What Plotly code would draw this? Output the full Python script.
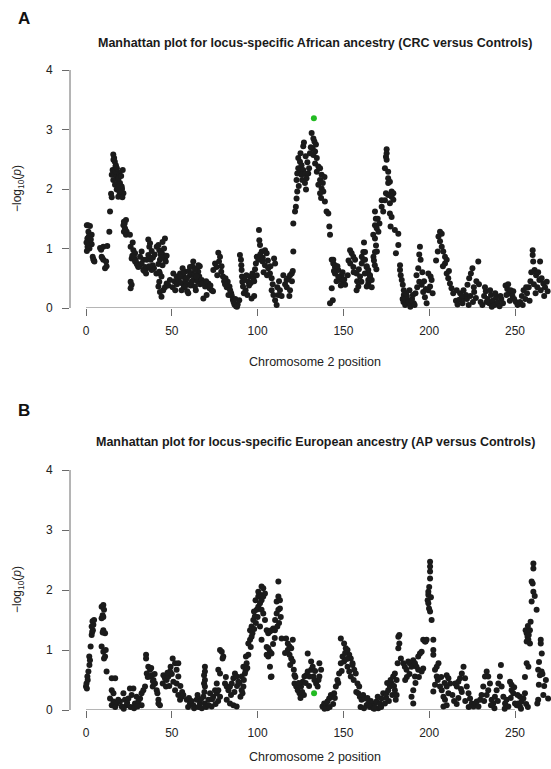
import sys
import plotly.graph_objects as go

# ---------------- Panel A: African ancestry (CRC vs Controls) ----------------
pos_A = [
    0.5, 1.2, 2.3, 1.4, 3.3, 0.8, 2.3, 0.3, 3.3, 0.9, 2.0, 0.5, 1.6, 2.8, 3.9, 4.3, 4.9, 4.5,
    8.2, 10.1, 12.4, 9.1, 10.1, 11.7, 11.1, 9.5, 12.0, 8.8,
    13.6, 14.0, 14.6, 15.0, 15.9, 16.4, 16.8, 17.4, 15.5, 16.9, 15.0, 17.9, 15.9, 18.8, 16.9, 19.8, 20.8, 17.9,
    20.2, 21.8, 20.2, 18.8, 21.4, 19.4, 16.0, 17.2, 18.3, 19.0, 20.5, 21.0, 19.5, 17.0, 18.0, 20.0, 21.2, 18.5,
    22.1, 23.3, 21.8, 22.7, 23.7, 22.1, 23.3, 22.5, 23.0,
    25.6, 27.2, 26.0, 27.6, 28.6, 26.6, 28.6, 29.5, 30.5, 26.0, 26.6, 26.0, 27.0, 28.0, 29.0, 30.0, 31.0,
    32.4, 31.5, 33.4, 32.4, 34.4, 33.4, 35.4, 36.3, 37.3, 36.9, 38.3, 36.3, 35.4, 37.7, 38.9, 39.6, 38.3, 34.0,
    35.0, 36.8, 39.0, 40.0,
    41.2, 42.7, 44.0, 45.0, 46.0, 43.1, 42.2, 44.6, 46.0, 44.6, 42.2, 45.5, 43.5, 47.0, 41.0, 43.0, 44.0, 46.5,
    42.7, 44.0, 42.7, 42.2, 43.1, 44.0, 45.0, 47.0, 48.9, 46.0, 48.0,
    50.9, 52.8, 54.8, 56.3, 57.7, 58.7, 60.6, 62.5, 64.4, 65.4, 66.3, 51.5, 53.0, 54.0, 55.5, 56.8, 57.0, 58.0,
    59.5, 60.0, 61.0, 61.5, 63.0, 63.5, 64.0, 59.0, 52.0, 50.5, 55.0, 62.0, 65.0, 66.0,
    56.7, 58.7, 60.6, 62.5, 63.5, 64.5, 65.5, 54.8, 57.7, 59.6, 55.7, 61.6,
    67.4, 69.4, 71.3, 73.2, 70.3, 68.4, 72.0, 74.0, 66.5, 68.0, 70.0, 72.5,
    77.1, 78.1, 75.2, 76.1, 74.2, 78.8, 79.8, 81.3, 82.6, 83.6, 84.6, 85.6, 86.5, 87.4, 88.4, 89.3, 80.5, 82.0,
    84.0, 85.0, 86.0, 87.0, 88.0, 79.0, 77.5, 76.5, 81.0, 83.0,
    89.7, 90.3, 90.5, 90.7, 90.9, 91.1, 91.5, 92.6, 94.6, 95.6, 97.5, 96.5, 93.0, 94.0, 95.0, 96.0, 97.0, 98.0,
    92.0, 93.5,
    100.8, 101.0, 101.4, 102.4, 104.3, 105.3, 99.5, 100.4, 102.9, 104.3, 106.2, 107.2, 108.2, 109.6, 110.2,
    108.2, 109.2, 110.2, 111.1, 112.1, 113.0, 114.0, 99.0, 98.5, 103.0, 106.0, 107.5, 103.5, 105.5, 101.5,
    108.8, 111.5, 112.5, 98.0, 99.5,
    116.9, 117.9, 118.9, 119.9, 118.9, 118.5, 116.0, 117.0, 120.0, 115.0, 120.5,
    120.8, 120.8, 121.8, 122.3, 122.7, 123.1, 122.7, 123.1, 123.7, 123.7, 124.7, 125.6, 124.7, 126.6, 125.6,
    127.6, 129.5, 128.5, 127.6, 128.2, 126.6, 127.0, 124.0, 125.0, 126.0, 129.0, 130.0, 128.0,
    131.5, 132.5, 133.1, 132.1, 133.5, 132.5, 134.5, 133.5, 135.4, 136.4, 134.5, 137.3, 136.4, 135.4, 137.3,
    138.3, 136.4, 139.2, 140.2, 141.2, 141.8, 142.2, 143.2, 144.1, 145.1, 143.8, 142.2, 131.0, 130.5, 134.0,
    138.0, 139.0, 137.0,
    144.1, 145.1, 147.0, 149.0, 148.0, 150.0, 151.0, 147.0, 145.1, 143.2, 146.0, 148.5, 150.5, 144.5, 146.5, 149.5,
    153.9, 154.8, 155.8, 156.8, 155.8, 157.7, 159.7, 158.7, 157.7, 153.0, 154.0, 156.0, 158.0, 159.0, 152.5,
    160.7, 161.6, 162.6, 163.6, 164.5, 165.5, 166.5, 164.5, 163.6, 162.0, 162.6, 161.6, 160.7, 163.5, 164.5,
    165.5, 164.5, 162.5, 166.5, 160.5, 167.5, 168.4,
    168.4, 168.9, 168.4, 169.4, 170.4, 167.4, 168.4, 171.0, 172.3, 174.2, 172.3, 173.2, 170.0, 169.0, 169.5,
    167.8, 169.2, 168.3,
    175.2, 175.2, 174.8, 175.2, 174.2, 176.1, 176.1, 177.1, 176.1, 174.8, 176.1, 178.1, 179.1, 178.1, 179.1,
    177.1, 177.1, 178.1, 177.5, 180.0, 182.0, 182.0, 180.6, 183.0, 183.0, 183.4, 184.0, 184.6, 185.2, 185.2,
    186.1, 187.1,
    185.0, 186.0, 187.0, 188.0, 189.0, 190.0, 191.0, 192.0, 188.5, 186.5, 189.5, 190.5, 184.5, 191.5,
    194.6, 194.2, 195.0, 193.6, 192.6, 194.2, 195.6, 196.5, 197.5, 198.5, 199.5, 200.5, 201.4, 200.8, 199.5,
    202.0, 193.0, 196.0, 197.0, 198.0,
    206.3, 207.3, 205.4, 206.3, 207.3, 208.2, 209.2, 210.2, 209.2, 210.2, 211.1, 212.1, 213.0, 214.0, 205.0,
    208.0, 211.5, 204.0,
    215.6, 216.5, 217.5, 219.4, 220.4, 221.4, 222.3, 223.3, 224.3, 225.2, 226.2, 227.2, 228.6, 229.0, 218.0,
    220.0, 222.0, 224.0, 226.0, 223.0, 225.5, 227.5, 216.0, 219.0,
    230.0, 231.0, 232.0, 233.0, 234.0, 235.0, 236.0, 237.0, 238.0, 239.0, 240.0, 241.0, 242.0, 243.0, 232.5,
    235.5, 238.5, 241.5, 236.5, 233.5,
    244.5, 245.5, 246.5, 247.5, 248.5, 249.5, 250.5, 251.5, 245.0, 247.0, 249.0, 246.0,
    253.0, 254.0, 255.0, 256.0, 257.0, 258.0, 259.0, 260.3, 260.3, 260.6, 264.6, 261.4, 262.3, 264.2, 266.5,
    268.5, 263.0, 265.0, 267.0, 262.0, 259.5, 261.0, 263.5, 265.5, 267.5, 269.0, 254.5, 256.5, 258.5,
]
logp_A = [
    1.39, 1.39, 1.38, 1.28, 1.23, 1.17, 1.14, 1.10, 1.07, 1.03, 1.00, 0.96, 1.20, 1.15, 0.86, 0.82, 0.78, 0.80,
    1.01, 1.03, 1.04, 0.86, 0.81, 0.78, 0.67, 0.84, 0.70, 0.98,
    1.28, 1.62, 1.92, 1.86, 2.58, 2.52, 2.46, 2.40, 2.32, 2.26, 2.24, 2.21, 2.15, 2.12, 2.07, 2.10, 2.04, 1.99,
    1.97, 1.93, 1.90, 1.87, 2.32, 2.26, 2.49, 2.38, 2.29, 2.18, 2.22, 2.00, 1.95, 2.30, 2.35, 2.05, 1.86, 2.02,
    1.45, 1.48, 1.39, 1.34, 1.28, 1.28, 1.23, 1.42, 1.31,
    1.23, 1.10, 1.03, 0.97, 0.92, 0.83, 0.78, 0.75, 0.69, 0.44, 0.39, 0.33, 0.88, 0.85, 0.80, 0.72, 0.70,
    0.95, 0.86, 0.81, 0.75, 0.69, 0.64, 0.67, 1.15, 1.09, 1.03, 0.96, 0.89, 0.81, 0.81, 0.72, 0.67, 0.64, 0.62,
    0.58, 0.70, 0.85, 0.90,
    1.03, 0.97, 0.95, 0.89, 0.83, 0.81, 0.74, 0.72, 1.17, 1.11, 1.06, 1.00, 0.90, 0.88, 0.58, 0.58, 0.85, 0.78,
    0.61, 0.53, 0.44, 0.36, 0.27, 0.19, 0.30, 0.41, 0.47, 0.35, 0.38,
    0.58, 0.53, 0.58, 0.67, 0.61, 0.50, 0.55, 0.47, 0.66, 0.61, 0.70, 0.45, 0.40, 0.48, 0.42, 0.52, 0.35, 0.45,
    0.40, 0.62, 0.38, 0.58, 0.55, 0.36, 0.30, 0.28, 0.30, 0.35, 0.55, 0.70, 0.45, 0.53,
    0.58, 0.50, 0.69, 0.78, 0.64, 0.53, 0.72, 0.53, 0.36, 0.25, 0.30, 0.44,
    0.47, 0.36, 0.41, 0.30, 0.22, 0.16, 0.33, 0.28, 0.40, 0.42, 0.45, 0.38,
    0.93, 0.86, 0.75, 0.69, 0.64, 0.61, 0.53, 0.50, 0.44, 0.36, 0.25, 0.14, 0.06, 0.03, 0.06, 0.13, 0.45, 0.35,
    0.30, 0.20, 0.10, 0.15, 0.02, 0.70, 0.78, 0.55, 0.40, 0.22,
    0.89, 0.81, 0.72, 0.64, 0.53, 0.44, 0.36, 0.47, 0.44, 0.53, 0.50, 0.16, 0.30, 0.22, 0.38, 0.42, 0.58, 0.45,
    0.25, 0.55,
    1.31, 1.14, 1.06, 0.95, 0.97, 0.92, 0.86, 0.81, 0.78, 0.72, 0.67, 0.58, 0.50, 0.83, 0.75,
    0.30, 0.22, 0.13, 0.05, 0.22, 0.30, 0.20, 0.75, 0.65, 0.85, 0.80, 0.70, 0.60, 0.55, 0.90,
    0.40, 0.35, 0.45, 0.20, 0.55,
    0.47, 0.50, 0.55, 0.58, 0.30, 0.20, 0.40, 0.35, 0.45, 0.55, 0.62,
    0.95, 1.42, 1.62, 1.70, 1.84, 1.96, 2.15, 2.26, 2.35, 2.52, 2.46, 2.40, 2.32, 2.32, 2.24,
    2.26, 2.26, 2.18, 2.10, 1.99, 2.72, 2.78, 2.05, 2.60, 2.15, 2.45, 2.35, 2.55,
    2.94, 2.85, 2.80, 2.68, 2.63, 2.57, 2.52, 2.43, 2.38, 2.35, 2.29, 2.24, 2.15, 2.07, 2.01,
    1.96, 1.93, 1.79, 1.62, 1.59, 1.37, 1.23, 0.81, 0.75, 0.69, 0.13, 0.08, 2.70, 2.60, 2.75,
    2.10, 2.20, 1.85,
    0.81, 0.72, 0.64, 0.55, 0.47, 0.41, 0.39, 0.53, 0.58, 0.33, 0.45, 0.38, 0.48, 0.62, 0.70, 0.60,
    0.97, 0.92, 0.86, 0.81, 0.69, 0.58, 0.53, 0.36, 0.30, 0.80, 0.75, 0.60, 0.45, 0.65, 0.55,
    0.86, 0.94, 0.81, 0.70, 0.58, 0.53, 0.47, 0.41, 0.36, 1.10, 0.94, 0.81, 0.75, 0.69, 0.64,
    0.55, 0.47, 0.58, 0.35, 0.44, 0.86, 0.94,
    1.62, 1.50, 1.39, 1.34, 1.28, 1.23, 1.17, 1.42, 1.81, 1.81, 1.70, 1.62, 1.50, 1.05, 0.95,
    0.80, 0.65, 0.72,
    2.67, 2.60, 2.54, 2.49, 2.35, 2.29, 2.18, 2.12, 2.10, 1.93, 1.90, 1.96, 1.93, 1.87, 1.82,
    1.76, 1.59, 1.53, 1.37, 1.31, 1.25, 1.06, 0.92, 0.72, 0.64, 0.55, 0.47, 0.39, 0.30, 0.22,
    0.17, 0.14,
    0.10, 0.05, 0.20, 0.10, 0.02, 0.15, 0.08, 0.25, 0.30, 0.25, 0.12, 0.22, 0.15, 0.05,
    1.03, 0.90, 0.81, 0.67, 0.55, 0.44, 0.39, 0.27, 0.18, 0.08, 0.30, 0.36, 0.47, 0.53, 0.58,
    0.25, 0.35, 0.60, 0.45, 0.32,
    1.28, 1.25, 1.20, 1.12, 1.03, 0.95, 0.86, 0.81, 0.75, 0.58, 0.50, 0.41, 0.33, 0.25, 0.95,
    0.70, 0.62, 0.80,
    0.12, 0.06, 0.14, 0.08, 0.16, 0.22, 0.39, 0.50, 0.58, 0.67, 0.27, 0.17, 0.78, 0.40, 0.25,
    0.30, 0.15, 0.20, 0.35, 0.05, 0.10, 0.45, 0.30, 0.20,
    0.10, 0.05, 0.20, 0.28, 0.15, 0.08, 0.22, 0.12, 0.05, 0.18, 0.10, 0.03, 0.15, 0.08, 0.35,
    0.30, 0.25, 0.20, 0.02, 0.10,
    0.38, 0.32, 0.25, 0.30, 0.20, 0.15, 0.10, 0.05, 0.22, 0.12, 0.28, 0.40,
    0.10, 0.20, 0.30, 0.15, 0.25, 0.35, 0.45, 0.97, 0.89, 0.78, 0.78, 0.64, 0.55, 0.47, 0.41,
    0.44, 0.35, 0.30, 0.20, 0.25, 0.60, 0.40, 0.60, 0.50, 0.35, 0.28, 0.05, 0.35, 0.12,
]
hit_pos_A = [132.8]
hit_logp_A = [3.19]

# ---------------- Panel B: European ancestry (AP vs Controls) ----------------
pos_B = [
    0.0, 0.5, 0.3, 0.8, 1.4, 1.9, 2.3, 2.7, 3.3, 3.6, 4.0, 3.3, 4.3, 3.8, 4.7, 1.0, 2.0,
    9.1, 10.1, 10.5, 9.7, 9.1, 10.1, 10.1, 11.1, 9.7, 9.1, 10.1, 11.1, 10.5, 12.0, 11.5,
    15.0, 17.0, 15.0, 16.0, 14.0, 16.0, 17.9, 15.0, 19.8, 21.8, 22.7, 24.7, 25.6, 27.6, 26.6, 28.5,
    29.5, 30.5, 31.5, 32.4, 33.4, 34.4, 32.4, 23.7, 20.8, 18.8, 17.0, 26.0, 24.0, 28.0, 30.0, 22.0,
    35.0, 35.0, 36.3, 37.3, 35.4, 37.3, 38.3, 39.3, 40.2, 38.9, 41.2, 41.6, 42.2, 43.1, 42.2, 36.0, 38.0, 40.0, 39.0,
    45.1, 46.0, 44.7, 47.0, 48.0, 46.6, 49.0, 49.3, 50.5, 51.9, 53.8, 52.8, 53.8, 52.8, 51.9, 53.8, 54.8, 55.8,
    50.9, 50.0, 48.5, 47.5, 55.0, 56.0,
    56.7, 58.7, 60.6, 62.5, 64.5, 66.4, 68.4, 69.3, 71.3, 72.3, 74.2, 75.2, 76.2, 73.2, 60.0, 63.0, 65.5, 67.5,
    70.0, 71.5, 59.5, 61.5, 65.0, 67.0, 69.0, 73.5, 75.5, 77.0,
    69.3, 69.3, 68.8, 69.3, 68.8, 69.3,
    78.1, 79.1, 80.0, 79.6, 77.1, 78.1, 76.2, 77.1, 78.1, 81.0, 82.0, 83.0, 83.9, 84.9, 85.9, 86.8, 87.8, 88.8,
    82.0, 83.9, 85.9, 87.8, 84.5, 86.5, 88.0, 81.5,
    90.7, 91.7, 90.7, 92.6, 91.7, 93.6, 93.2, 94.6, 90.0, 91.2, 92.0, 93.0, 94.0, 89.5,
    94.6, 95.6, 96.5, 95.6, 96.5, 97.5, 98.4, 97.9, 99.4, 100.4, 98.8, 100.4, 101.4, 102.3, 103.3,
    100.4, 102.3, 103.3, 104.3, 101.4, 102.3, 103.3, 104.3, 101.4, 102.3, 97.0, 99.0, 96.0, 98.0, 100.0,
    105.3, 106.2, 107.2, 108.1, 109.1, 110.1, 105.3, 106.2, 107.2, 108.1, 106.2, 105.3, 107.2, 108.1, 107.7,
    109.0, 110.0,
    111.1, 112.1, 113.0, 111.1, 112.1, 113.0, 112.1, 114.0, 110.2, 111.5, 112.5, 113.5,
    116.6, 117.6, 118.6, 119.6, 120.5, 117.6, 118.6, 119.6, 120.5, 121.1, 121.5, 116.0, 119.0,
    121.5, 122.5, 123.4, 124.4, 125.3, 126.3, 127.3, 128.3, 129.2, 130.2, 131.2, 132.1, 131.2, 129.2, 132.6,
    133.1, 134.1, 135.0, 136.0, 137.0, 136.0, 126.0, 124.0, 128.0, 130.0, 133.5, 135.5, 122.0, 127.0, 125.0,
    137.8, 138.8, 139.8, 140.7, 141.7, 142.7, 143.6, 140.7, 139.0, 142.0, 144.0,
    144.6, 145.6, 146.5, 147.5, 148.5, 149.5, 148.5, 150.4, 151.4, 152.4, 153.4, 154.3, 155.3, 156.3, 157.2,
    158.2, 159.2, 150.4, 152.4, 153.4, 154.3, 155.3, 151.0, 152.0, 156.0, 157.5, 147.0, 149.0, 145.0,
    158.6, 159.6, 160.6, 161.5, 162.5, 163.5, 164.5, 165.4, 166.4, 167.4, 168.3, 169.3, 170.3, 171.3, 172.2,
    173.2, 174.2, 160.0, 162.0, 164.0, 166.0, 168.0, 170.0, 172.0, 175.0,
    175.1, 176.1, 177.1, 178.1, 179.0, 180.0, 181.0, 182.0, 175.5, 177.5, 179.5, 176.5, 178.5, 180.0, 181.0, 180.5,
    182.6, 182.6, 182.0, 183.5, 181.6, 184.9, 185.8, 186.8, 187.8, 188.7, 189.7, 190.7, 191.7, 192.6, 193.6,
    194.6, 195.6, 196.5, 197.5, 196.5, 195.6, 193.6, 191.7, 190.7, 189.7, 190.7, 187.0, 188.5, 186.0, 192.0, 194.0,
    200.5, 200.5, 200.5, 200.5, 199.5, 199.5, 199.1, 199.5, 199.9, 200.5, 201.4, 198.5, 197.9, 202.4, 202.4,
    202.4, 200.0, 201.0,
    205.4, 204.4, 203.4, 204.4, 206.3, 207.3, 203.4, 202.4, 208.3, 209.2, 210.2, 208.3, 210.2, 211.2, 212.2,
    210.2, 211.2, 205.0, 207.0, 209.0,
    215.1, 216.1, 217.0, 218.0, 219.0, 220.0, 220.9, 221.9, 222.9, 223.8, 224.8, 225.8, 226.8, 227.7, 228.7,
    229.7, 217.0, 219.0, 221.0, 223.0, 216.0, 218.5, 213.5, 214.5,
    231.5, 232.5, 233.5, 234.4, 235.4, 234.4, 233.5, 236.4, 237.3, 238.3, 239.3, 240.3, 241.2, 241.8, 242.2,
    243.2, 244.2, 245.1, 246.1, 238.0, 236.0, 232.0, 230.5, 240.0, 244.0,
    247.1, 248.0, 248.0, 249.0, 250.0, 251.0, 251.9, 252.9, 253.9, 254.9, 255.8, 252.9, 247.5, 249.5, 251.5,
    253.5, 256.5, 257.5,
    255.8, 256.8, 257.8, 256.2, 256.8, 257.3, 257.8, 256.8, 258.7, 258.7, 259.1, 257.5, 258.0,
    260.7, 260.7, 259.7, 260.3, 260.7, 259.7, 262.6, 261.5,
    265.0, 265.0, 265.6, 263.5, 265.5, 264.5, 263.9, 263.5, 263.0, 269.3, 266.0, 267.0, 268.0, 264.0, 266.5,
]
logp_B = [
    0.39, 0.36, 0.44, 0.56, 0.64, 0.89, 0.83, 1.06, 1.25, 1.30, 1.33, 1.39, 1.42, 1.48, 1.50, 0.50, 0.75,
    1.72, 1.75, 1.67, 1.58, 1.53, 1.55, 1.33, 1.28, 1.29, 1.06, 0.97, 0.89, 0.86, 0.64, 1.00,
    0.53, 0.53, 0.33, 0.28, 0.19, 0.14, 0.11, 0.08, 0.14, 0.28, 0.17, 0.19, 0.36, 0.36, 0.25, 0.11,
    0.22, 0.14, 0.19, 0.28, 0.33, 0.39, 0.08, 0.08, 0.06, 0.17, 0.05, 0.05, 0.12, 0.03, 0.06, 0.02,
    0.92, 0.86, 0.72, 0.67, 0.61, 0.56, 0.58, 0.50, 0.44, 0.39, 0.33, 0.28, 0.17, 0.08, 0.11, 0.55, 0.70, 0.60, 0.48,
    0.58, 0.53, 0.44, 0.50, 0.56, 0.39, 0.64, 0.72, 0.86, 0.78, 0.78, 0.67, 0.56, 0.44, 0.33, 0.25, 0.17, 0.22,
    0.47, 0.60, 0.40, 0.62, 0.40, 0.30,
    0.25, 0.17, 0.11, 0.08, 0.17, 0.11, 0.22, 0.11, 0.17, 0.28, 0.22, 0.33, 0.28, 0.06, 0.20, 0.03, 0.05, 0.03,
    0.05, 0.08, 0.05, 0.15, 0.25, 0.18, 0.30, 0.18, 0.10, 0.15,
    0.72, 0.64, 0.58, 0.50, 0.44, 0.39,
    1.00, 0.97, 0.89, 0.86, 0.67, 0.61, 0.44, 0.33, 0.22, 0.44, 0.39, 0.33, 0.39, 0.44, 0.53, 0.61, 0.56, 0.47,
    0.17, 0.11, 0.08, 0.06, 0.25, 0.30, 0.40, 0.55,
    0.33, 0.39, 0.56, 0.61, 0.72, 0.78, 0.89, 0.92, 0.22, 0.28, 0.50, 0.66, 0.70, 0.45,
    1.11, 1.17, 1.22, 1.33, 1.39, 1.50, 1.56, 1.64, 1.67, 1.72, 1.83, 1.89, 1.92, 1.83, 1.89,
    1.97, 2.06, 2.03, 1.94, 1.78, 1.67, 1.61, 1.50, 1.39, 1.17, 1.28, 1.45, 1.05, 1.35, 1.55,
    1.33, 1.28, 1.31, 1.33, 1.36, 1.33, 1.05, 1.03, 0.97, 0.94, 0.89, 0.92, 0.72, 0.56, 0.55,
    1.10, 1.20,
    1.61, 1.67, 1.69, 1.81, 1.89, 1.83, 2.14, 1.19, 1.50, 1.39, 1.45, 1.55,
    1.19, 1.11, 1.06, 1.03, 1.17, 1.00, 0.92, 0.86, 0.81, 0.67, 0.58, 0.95, 0.75,
    0.44, 0.39, 0.33, 0.28, 0.39, 0.47, 0.56, 0.58, 0.64, 0.56, 0.67, 0.72, 0.81, 0.94, 0.56,
    0.50, 0.44, 0.39, 0.56, 0.67, 0.78, 0.30, 0.45, 0.45, 0.40, 0.65, 0.50, 0.55, 0.25, 0.20,
    0.06, 0.11, 0.08, 0.14, 0.19, 0.25, 0.22, 0.03, 0.02, 0.05, 0.10,
    0.28, 0.39, 0.50, 0.61, 0.78, 0.89, 1.19, 1.11, 1.03, 1.00, 0.92, 0.86, 0.78, 0.67, 0.61,
    0.44, 0.39, 0.81, 0.72, 0.64, 0.56, 0.75, 0.95, 0.85, 0.50, 0.30, 0.45, 0.65, 0.20,
    0.28, 0.22, 0.17, 0.25, 0.19, 0.08, 0.11, 0.05, 0.08, 0.03, 0.11, 0.14, 0.03, 0.11, 0.19,
    0.28, 0.11, 0.05, 0.03, 0.20, 0.15, 0.02, 0.22, 0.05, 0.20,
    0.28, 0.33, 0.39, 0.44, 0.56, 0.61, 0.50, 1.22, 0.45, 0.50, 0.40, 0.15, 0.25, 0.33, 0.25, 0.17,
    1.25, 1.11, 1.03, 0.86, 0.78, 0.78, 0.72, 0.67, 0.81, 0.78, 0.72, 0.83, 0.78, 0.72, 0.89,
    0.94, 0.97, 1.17, 1.14, 0.69, 0.64, 0.67, 0.56, 0.33, 0.22, 0.11, 0.55, 0.60, 0.50, 0.45, 0.55,
    2.47, 2.39, 2.31, 2.19, 1.97, 1.92, 1.83, 1.78, 1.69, 1.64, 1.50, 1.17, 1.14, 1.17, 1.00,
    0.92, 2.05, 1.88,
    0.78, 0.72, 0.67, 0.56, 0.39, 0.33, 0.42, 0.31, 0.22, 0.17, 0.08, 0.06, 0.58, 0.53, 0.44,
    0.39, 0.28, 0.50, 0.55, 0.45,
    0.44, 0.39, 0.47, 0.53, 0.61, 0.72, 0.53, 0.39, 0.28, 0.19, 0.11, 0.06, 0.11, 0.14, 0.06,
    0.17, 0.20, 0.30, 0.15, 0.05, 0.10, 0.35, 0.25, 0.15,
    0.39, 0.56, 0.64, 0.56, 0.44, 0.33, 0.25, 0.17, 0.11, 0.22, 0.33, 0.44, 0.56, 0.75, 0.39,
    0.22, 0.11, 0.17, 0.06, 0.03, 0.08, 0.15, 0.25, 0.15, 0.02,
    0.47, 0.42, 0.33, 0.28, 0.11, 0.08, 0.11, 0.06, 0.14, 0.19, 0.28, 0.22, 0.20, 0.38, 0.25,
    0.02, 0.10, 0.05,
    0.55, 0.78, 0.72, 1.33, 1.28, 1.22, 1.17, 1.14, 1.11, 1.33, 1.47, 1.40, 1.25,
    2.44, 2.36, 2.14, 2.11, 1.97, 1.81, 1.67, 1.90,
    1.17, 1.11, 0.94, 0.67, 0.64, 0.58, 0.42, 0.17, 0.11, 0.19, 0.60, 0.40, 0.50, 0.80, 0.25,
]
hit_pos_B = [132.9]
hit_logp_B = [0.28]

x_ticks = [0, 50, 100, 150, 200, 250]
y_ticks = [0, 1, 2, 3, 4]
titles = ["Manhattan plot for locus-specific African ancestry (CRC versus Controls)",
          "Manhattan plot for locus-specific European ancestry (AP versus Controls)"]
panel_tags = ["A", "B"]
x_title = "Chromosome 2 position"
y_title = "\u2212log<sub>10</sub>(<i>p</i>)"

if len(pos_A) != len(logp_A) or len(pos_B) != len(logp_B):
    print("length mismatch", len(pos_A), len(logp_A), len(pos_B), len(logp_B), file=sys.stderr)

# ---------------- Layout geometry (pixels) ----------------
W, H = 551, 769
left_px = 70
x0_px, px_per_unit = 86.0, 1.716
xr = [(left_px - x0_px) / px_per_unit, (W - x0_px) / px_per_unit]
panels = [  # (y pixel of value 0, y pixel of value 4, title y, tag y, x-label y)
    (308, 70, 43, 18, 362),
    (710, 470, 442, 410, 757),
]
FONT = "Liberation Sans, Arial, sans-serif"
DOT = "#1b1b1b"
GREEN = "#22bb22"
AXC = "#6a6a6a"
TXT = "#222222"

fig = go.Figure()
data = [(pos_A, logp_A, hit_pos_A, hit_logp_A), (pos_B, logp_B, hit_pos_B, hit_logp_B)]
for i, (px, py, hx, hy) in enumerate(data):
    xa = "x" if i == 0 else "x2"
    ya = "y" if i == 0 else "y2"
    n = min(len(px), len(py))
    fig.add_trace(go.Scatter(x=px[:n], y=py[:n], mode="markers", xaxis=xa, yaxis=ya,
                             marker=dict(size=6, color=DOT), cliponaxis=False,
                             hoverinfo="skip", showlegend=False))
    fig.add_trace(go.Scatter(x=hx, y=hy, mode="markers", xaxis=xa, yaxis=ya,
                             marker=dict(size=6, color=GREEN), cliponaxis=False,
                             hoverinfo="skip", showlegend=False))

layout = dict(width=W, height=H, margin=dict(l=0, r=0, t=0, b=0, autoexpand=False),
              paper_bgcolor="white", plot_bgcolor="white",
              font=dict(family=FONT, color=TXT), showlegend=False)
shapes = []
annotations = []
for i, (y0p, y4p, title_y, tag_y, xlab_y) in enumerate(panels):
    sfx = "" if i == 0 else "2"
    ax_common = dict(showgrid=False, zeroline=False, showline=False, ticks="outside",
                     ticklen=7, tickwidth=1, tickcolor=AXC, automargin=False,
                     tickfont=dict(family=FONT, size=12, color=TXT))
    layout["xaxis" + sfx] = dict(domain=[left_px / W, 1.0], range=xr, tickvals=x_ticks,
                                 anchor="y" + sfx, ticklabelstandoff=5, **ax_common)
    layout["yaxis" + sfx] = dict(domain=[1 - y0p / H, 1 - y4p / H], range=[0, 4], tickvals=y_ticks,
                                 anchor="x" + sfx, showticklabels=False, **ax_common)
    shapes.append(dict(type="line", xref="x" + sfx, yref="y" + sfx, x0=x_ticks[0], x1=x_ticks[-1],
                       y0=0, y1=0, line=dict(color=AXC, width=1), layer="below"))
    shapes.append(dict(type="line", xref="paper", yref="y" + sfx, x0=left_px / W, x1=left_px / W,
                       y0=y_ticks[0], y1=y_ticks[-1], line=dict(color=AXC, width=1), layer="below"))
    # y tick labels, placed like R's axis() labels (well left of the tick marks)
    for v in y_ticks:
        annotations.append(dict(text=str(v), xref="paper", yref="y" + sfx, x=55 / W, y=v,
                                xanchor="right", yanchor="middle", showarrow=False,
                                font=dict(size=12, color=TXT)))
    annotations += [
        dict(text="<b>%s</b>" % titles[i], xref="paper", yref="paper", x=315 / W, y=1 - title_y / H,
             xanchor="center", yanchor="middle", showarrow=False, font=dict(size=12.5, color="#1a1a1a")),
        dict(text="<b>%s</b>" % panel_tags[i], xref="paper", yref="paper", x=24 / W, y=1 - tag_y / H,
             xanchor="center", yanchor="middle", showarrow=False, font=dict(size=17, color="#111111")),
        dict(text=x_title, xref="paper", yref="paper", x=315 / W, y=1 - xlab_y / H,
             xanchor="center", yanchor="middle", showarrow=False, font=dict(size=12.5, color=TXT)),
        dict(text=y_title, xref="paper", yref="paper", x=18 / W, y=1 - ((y0p + y4p) / 2) / H,
             xanchor="center", yanchor="middle", textangle=-90, showarrow=False,
             font=dict(size=12, color=TXT)),
    ]
layout["shapes"] = shapes
layout["annotations"] = annotations
fig.update_layout(**layout)
# The page must show the figure at exactly 551x769, so drop the browser's default body margin.
fig.write_html("out.html", config={"displayModeBar": False, "staticPlot": True},
               post_script="document.body.style.margin='0';document.body.style.overflow='hidden';")
